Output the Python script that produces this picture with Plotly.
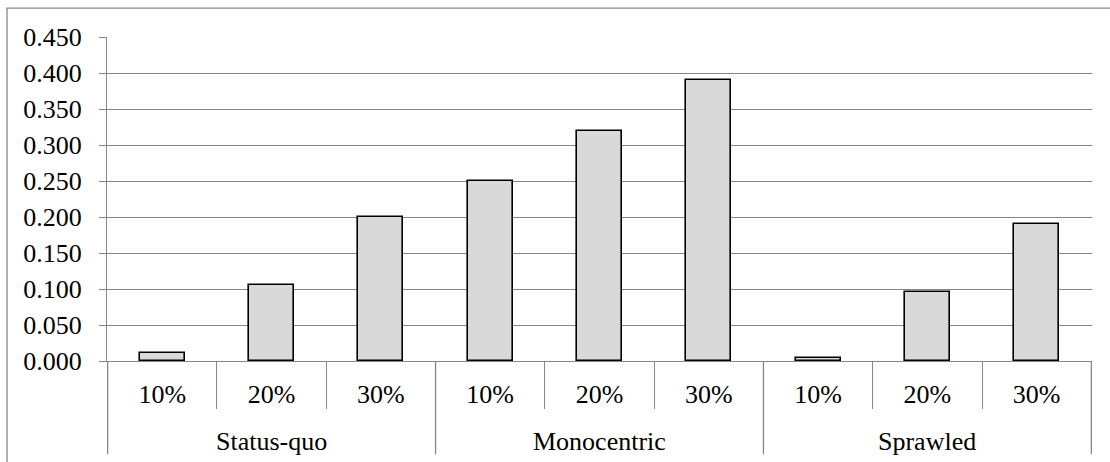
import plotly.graph_objects as go

groups = ["Status-quo", "Monocentric", "Sprawled"]
levels = ["10%", "20%", "30%"]
values = [0.011, 0.105, 0.200, 0.250, 0.320, 0.390, 0.004, 0.096, 0.190]
y_ticks = [0.0, 0.05, 0.10, 0.15, 0.20, 0.25, 0.30, 0.35, 0.40, 0.45]

keys = [f"{g} {l}" for g in groups for l in levels]
inner_labels = [l for _ in groups for l in levels]

GRAY = "#878787"
FONT = dict(family="Liberation Serif", size=26, color="black")

W, H = 1110, 462
L, R, T, B = 107, 18, 37, 100.5
pw, ph = W - L - R, H - T - B

fig = go.Figure()
fig.add_trace(go.Bar(
    x=keys, y=values, width=0.41,
    marker=dict(color="#d9d9d9", line=dict(color="black", width=1.6)),
    showlegend=False, hoverinfo="skip",
))

n = len(levels)
annotations = []
shapes = []
for gi, g in enumerate(groups):
    annotations.append(dict(
        x=keys[gi * n + n // 2], xref="x", y=0, yref="paper",
        text=g, showarrow=False, yanchor="middle", yshift=-80.5,
        font=FONT,
    ))
for b in range(len(groups) + 1):
    shapes.append(dict(
        type="line", xref="x", yref="paper",
        x0=b * n - 0.5, x1=b * n - 0.5, y0=0, y1=-93.5 / ph,
        line=dict(color=GRAY, width=1.3),
    ))
shapes.append(dict(
    type="rect", xref="paper", yref="paper",
    x0=(7 - L) / pw, x1=(W + 10 - L) / pw,
    y0=-(H + 10 - T - ph) / ph, y1=(H - 8 - B) / ph,
    line=dict(color=GRAY, width=1.3), fillcolor="rgba(0,0,0,0)", layer="below",
))

fig.update_layout(
    width=W, height=H,
    margin=dict(l=L, r=R, t=T, b=B, pad=0),
    paper_bgcolor="white", plot_bgcolor="white",
    font=FONT, bargap=0,
    annotations=annotations, shapes=shapes,
)
fig.update_yaxes(
    range=[0, 0.45], tickvals=y_ticks, tickformat=".3f",
    showgrid=True, gridcolor=GRAY, gridwidth=1.3,
    showline=True, linecolor=GRAY, linewidth=1.3,
    ticks="outside", ticklen=7, tickcolor=GRAY, tickwidth=1.3,
    ticklabelstandoff=12, zeroline=False, tickfont=FONT,
)
fig.update_xaxes(
    type="category", categoryorder="array", categoryarray=keys,
    tickvals=keys, ticktext=inner_labels,
    showline=True, linecolor=GRAY, linewidth=1.3,
    ticks="outside", tickson="boundaries", ticklen=47, tickcolor=GRAY, tickwidth=1.3,
    ticklabelstandoff=10,
    showgrid=False, tickfont=FONT,
)

fig.write_html("out.html", config={"displayModeBar": False},
               post_script="document.body.style.margin='0';")
